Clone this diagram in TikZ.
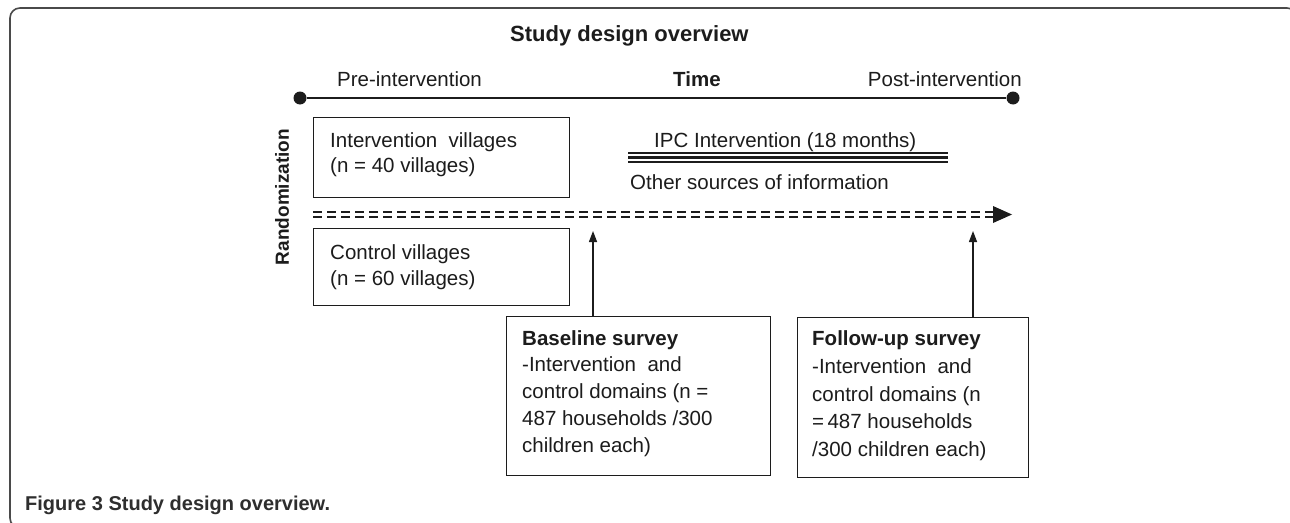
\documentclass[tikz,border=0pt]{standalone}
\usepackage{fontspec}
\setmainfont{Liberation Sans}
\usetikzlibrary{arrows.meta}
\definecolor{ink}{HTML}{1C1C1C}
\definecolor{framec}{HTML}{4A4A4A}
\definecolor{capc}{HTML}{2E2E2E}
\begin{document}
\begin{tikzpicture}[x=1pt,y=-1pt,
  txt/.style={anchor=base west,inner sep=0,text=ink,font=\fontsize{20.5}{25}\selectfont},
  btxt/.style={anchor=base west,inner sep=0,text=ink,font=\fontsize{20.5}{25}\selectfont\bfseries},
  box/.style={draw=ink,line width=1.4pt,inner sep=0,anchor=north west},
  dotn/.style={circle,fill=ink,inner sep=0,minimum size=13pt},
  upar/.style={draw=ink,line width=1.3pt,-{Triangle[length=11pt,width=8pt]}},
  dashrow/.style={draw=ink,line width=2.2pt,dash pattern=on 9pt off 5pt},
  ipcline/.style={draw=ink,line width=2.2pt},
]
\useasboundingbox (0,0) rectangle (1290,522);
\fill[white] (0,0) rectangle (1290,522);
% frame
\draw[framec,line width=1.6pt,rounded corners=10pt] (1297,40) |- (10,8) |- (40,528);

% title
\node[btxt,font=\fontsize{22}{26}\selectfont\bfseries] (title) at (510,41) {Study design overview};

% timeline
\node[dotn] (pre) at (300,98) {};
\node[dotn] (post) at (1013,98) {};
\draw[ink,line width=1.4pt] (pre) -- (post);
\node[txt] (pretxt) at (337,86) {Pre-intervention};
\node[btxt] (time) at (673,86) {Time};
\node[txt,anchor=base east] (posttxt) at (1022,86) {Post-intervention};

% randomization
\node[btxt,anchor=center,rotate=90,font=\fontsize{19}{23}\selectfont\bfseries] (rand) at (282,197) {Randomization};

% village boxes
\node[box,minimum width=256pt,minimum height=80pt] (ivbox) at (313,117) {};
\node[txt] (iv1) at (330,147) {Intervention\ \ villages};
\node[txt] (iv2) at (330,172) {(n = 40 villages)};
\node[box,minimum width=256pt,minimum height=77pt] (cvbox) at (313,228) {};
\node[txt] (cv1) at (330,259) {Control villages};
\node[txt] (cv2) at (330,285) {(n = 60 villages)};

% IPC intervention
\node[txt] (ipctxt) at (654,147) {IPC Intervention (18 months)};
\coordinate (ipcA) at (628,157.5);
\coordinate (ipcB) at (948,157.5);
\draw[ipcline] ([yshift=-4.3pt]ipcA) -- ([yshift=-4.3pt]ipcB);
\draw[ipcline] (ipcA) -- (ipcB);
\draw[ipcline] ([yshift=4.3pt]ipcA) -- ([yshift=4.3pt]ipcB);

% other sources
\node[txt] (othtxt) at (630,189) {Other sources of information};
\coordinate (dA) at (313,214.5);
\coordinate (dB) at (993,214.5);
\draw[dashrow] ([yshift=-2.3pt]dA) -- ([yshift=-2.3pt]dB);
\draw[dashrow] ([yshift=2.3pt]dA) -- ([yshift=2.3pt]dB);
\fill[ink] (993,206) -- (1012,214.5) -- (993,223) -- cycle;

% survey boxes
\node[box,minimum width=264pt,minimum height=159pt] (bsbox) at (506,316) {};
\node[btxt] (bs1) at (522,345) {Baseline survey};
\node[txt] (bs2) at (522,371.5) {-Intervention\ \ and};
\node[txt] (bs3) at (522,398) {control domains (n =};
\node[txt] (bs4) at (522,425) {487 households /300};
\node[txt] (bs5) at (522,452) {children each)};

\node[box,minimum width=231pt,minimum height=160pt] (fubox) at (797,317) {};
\node[btxt] (fu1) at (812,345) {Follow-up survey};
\node[txt] (fu2) at (812,373) {-Intervention\ \ and};
\node[txt] (fu3) at (812,401) {control domains (n};
\node[txt] (fu4) at (812,428) {=\,487 households};
\node[txt] (fu5) at (812,456) {/300 children each)};

% survey arrows
\coordinate (bstip) at (593,231);
\coordinate (futip) at (973,231);
\draw[upar] (bsbox.north -| bstip) -- (bstip);
\draw[upar] (fubox.north -| futip) -- (futip);

% caption
\node[anchor=base west,inner sep=0,text=capc,font=\fontsize{20}{24}\selectfont\bfseries] (cap) at (25,510) {Figure 3 Study design overview.};
\end{tikzpicture}
\end{document}
